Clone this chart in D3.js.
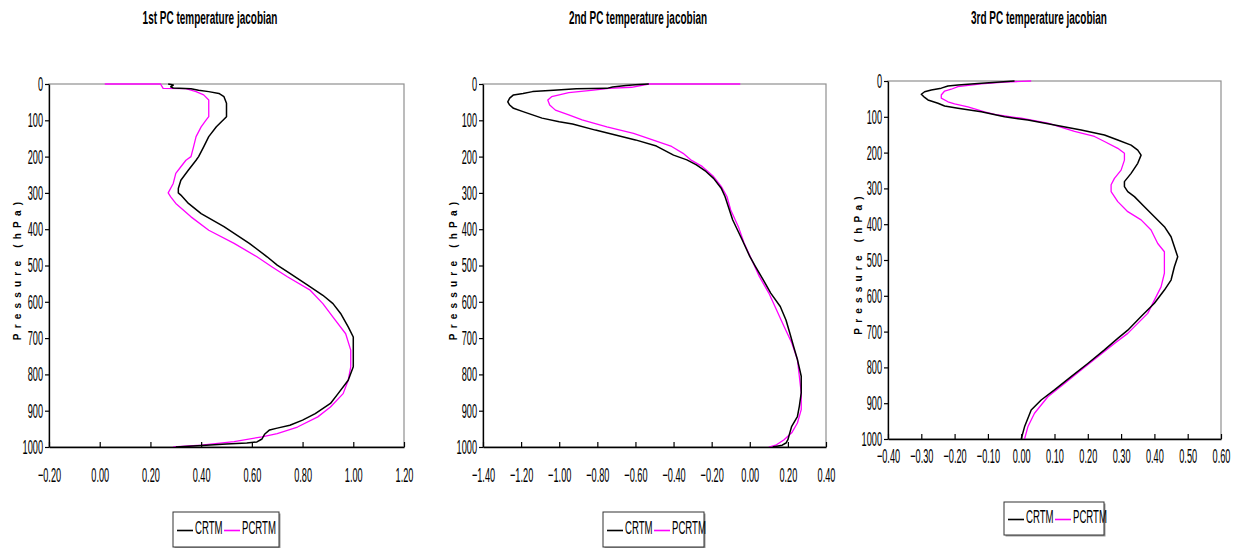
<!DOCTYPE html>
<html>
<head>
<meta charset="utf-8">
<script src="https://cdn.jsdelivr.net/npm/d3@7"></script>
<style>
  body { margin: 0; background: #fff; }
  svg { display: block; }
  text { font-family: "Liberation Sans", Arial, sans-serif; fill: #000; }
</style>
</head>
<body>
<div id="chart"></div>
<script>
// chart dimensions
const W = 1240, H = 548;
// the reference text is drawn narrow and tall
const SX = 0.8, SY = 1.75;

// series names and titles
const seriesNames = ["CRTM", "PCRTM"];
const titles = ["1st PC temperature jacobian", "2nd PC temperature jacobian", "3rd PC temperature jacobian"];
const yLabel = "Pressure (hPa)";
const pressureTicks = [0, 100, 200, 300, 400, 500, 600, 700, 800, 900, 1000];
const xTicks1 = [-0.2, 0, 0.2, 0.4, 0.6, 0.8, 1.0, 1.2];
const xTicks2 = [-1.4, -1.2, -1.0, -0.8, -0.6, -0.4, -0.2, 0, 0.2, 0.4];
const xTicks3 = [-0.4, -0.3, -0.2, -0.1, 0, 0.1, 0.2, 0.3, 0.4, 0.5, 0.6];

// [pressure hPa, jacobian]
const pc1Crtm = [[0,0.27],[3,0.29],[8,0.28],[11,0.29],[13,0.36],[17,0.39],[21,0.43],[26,0.47],[35,0.49],[53,0.50],
  [72,0.50],[90,0.50],[104,0.48],[118,0.46],[145,0.43],[173,0.41],[200,0.39],[210,0.38],[237,0.35],[265,0.32],
  [288,0.31],[300,0.31],[306,0.32],[329,0.35],[357,0.40],[393,0.49],[439,0.59],[476,0.66],[499,0.70],[522,0.75],
  [554,0.82],[582,0.88],[605,0.92],[632,0.95],[669,0.98],[697,1.00],[733,1.00],[779,1.00],[816,0.98],[853,0.94],
  [880,0.91],[908,0.85],[926,0.80],[940,0.75],[948,0.70],[953,0.67],[965,0.65],[978,0.64],[986,0.62],[989,0.58],
  [992,0.50],[995,0.42],[1000,0.30]];
const pc1Pcrtm = [[0,0.02],[0,0.24],[12,0.25],[13,0.34],[21,0.38],[30,0.41],[44,0.43],[62,0.43],[90,0.43],[99,0.42],
  [118,0.40],[145,0.38],[173,0.37],[200,0.36],[210,0.34],[228,0.32],[246,0.30],[274,0.29],[300,0.27],[311,0.28],
  [329,0.30],[366,0.36],[403,0.43],[439,0.53],[476,0.62],[504,0.68],[531,0.74],[568,0.83],[605,0.88],[642,0.92],
  [688,0.97],[733,0.99],[779,0.99],[816,0.98],[853,0.96],[890,0.91],[917,0.86],[945,0.78],[963,0.70],[972,0.64],
  [985,0.53],[995,0.40],[1000,0.29]];

const pc2Crtm = [[0,-0.53],[2,-0.60],[4,-0.65],[8,-0.72],[12,-0.75],[13,-0.91],[17,-1.03],[21,-1.14],[26,-1.19],[30,-1.24],
  [39,-1.26],[49,-1.27],[58,-1.26],[67,-1.24],[76,-1.19],[85,-1.14],[94,-1.09],[104,-1.00],[110,-0.93],[127,-0.81],
  [154,-0.60],[171,-0.49],[196,-0.40],[209,-0.33],[223,-0.28],[241,-0.23],[260,-0.19],[287,-0.15],[310,-0.13],[374,-0.09],
  [429,-0.04],[475,0.00],[503,0.03],[539,0.07],[576,0.11],[613,0.16],[650,0.19],[686,0.21],[723,0.23],[759,0.25],
  [805,0.27],[851,0.27],[888,0.26],[916,0.25],[943,0.22],[961,0.21],[980,0.20],[989,0.19],[995,0.17],[1000,0.12]];
const pc2Pcrtm = [[0,-0.05],[0,-0.53],[9,-0.62],[12,-0.74],[17,-0.82],[24,-0.95],[30,-1.00],[35,-1.04],[44,-1.06],[58,-1.05],
  [72,-1.02],[85,-0.95],[99,-0.88],[108,-0.82],[118,-0.75],[136,-0.61],[154,-0.51],[172,-0.41],[191,-0.35],[209,-0.31],
  [227,-0.25],[255,-0.19],[282,-0.15],[310,-0.12],[347,-0.10],[393,-0.06],[438,-0.03],[484,0.01],[530,0.05],[576,0.10],
  [622,0.14],[668,0.18],[713,0.22],[759,0.25],[805,0.26],[851,0.27],[897,0.27],[934,0.25],[961,0.22],[980,0.18],
  [994,0.14],[1000,0.10]];

const pc3Crtm = [[0,-0.02],[7,-0.13],[11,-0.19],[14,-0.22],[20,-0.24],[25,-0.27],[30,-0.29],[37,-0.30],[46,-0.29],[53,-0.28],
  [62,-0.25],[70,-0.23],[76,-0.19],[86,-0.12],[100,-0.05],[109,0.02],[123,0.10],[137,0.18],[151,0.25],[165,0.29],
  [179,0.33],[193,0.35],[207,0.36],[230,0.35],[258,0.33],[281,0.31],[295,0.31],[309,0.32],[323,0.34],[351,0.37],
  [379,0.40],[407,0.43],[435,0.45],[463,0.46],[491,0.47],[519,0.46],[556,0.45],[584,0.43],[621,0.40],[658,0.36],
  [696,0.32],[719,0.29],[751,0.25],[789,0.20],[826,0.15],[863,0.10],[891,0.06],[919,0.03],[966,0.01],[1000,0.00]];
const pc3Pcrtm = [[0,0.03],[1,0.00],[3,-0.05],[8,-0.12],[16,-0.19],[23,-0.21],[28,-0.23],[39,-0.24],[48,-0.24],[58,-0.22],
  [64,-0.20],[72,-0.16],[86,-0.11],[95,-0.07],[104,0.00],[118,0.08],[141,0.16],[155,0.22],[169,0.25],[188,0.29],
  [202,0.31],[221,0.31],[249,0.30],[272,0.28],[290,0.27],[309,0.27],[337,0.29],[365,0.32],[388,0.36],[416,0.39],
  [454,0.41],[477,0.43],[510,0.43],[537,0.43],[575,0.42],[612,0.40],[649,0.38],[677,0.35],[705,0.32],[733,0.28],
  [770,0.23],[807,0.18],[845,0.13],[882,0.08],[928,0.04],[966,0.02],[1000,0.01]];

const COLORS = { CRTM: "#000000", PCRTM: "#ff00ff" };

// panel layout
const panels = [
  { left: 49, right: 404, top: 84, bottom: 447, xDomain: [-0.2, 1.2], ticks: xTicks1, gap: 28,
    labelX: 17, titleX: 210, legend: { x: 173, y: 512, w: 106, h: 35 }, crtm: pc1Crtm, pcrtm: pc1Pcrtm },
  { left: 483, right: 826, top: 84, bottom: 447, xDomain: [-1.4, 0.4], ticks: xTicks2, gap: 28,
    labelX: 453, titleX: 638, legend: { x: 603, y: 512, w: 101, h: 35 }, crtm: pc2Crtm, pcrtm: pc2Pcrtm },
  { left: 888, right: 1221, top: 81, bottom: 439, xDomain: [-0.4, 0.6], ticks: xTicks3, gap: 17,
    labelX: 858, titleX: 1039, legend: { x: 1004, y: 502, w: 100, h: 33 }, crtm: pc3Crtm, pcrtm: pc3Pcrtm },
];

const svg = d3.select("#chart").append("svg").attr("width", W).attr("height", H);

panels.forEach((p, i) => {
  const g = svg.append("g");

  const x = d3.scaleLinear().domain(p.xDomain).range([p.left, p.right]);
  const y = d3.scaleLinear().domain([0, 1000]).range([p.top, p.bottom]);

  // title
  g.append("text")
    .attr("transform", `translate(${p.titleX},24) scale(0.78,1.5)`)
    .attr("text-anchor", "middle")
    .style("font-size", "12.8px")
    .style("font-weight", "bold")
    .text(titles[i]);

  // plot frame (top and right are grey)
  g.append("rect")
    .attr("x", p.left).attr("y", p.top)
    .attr("width", p.right - p.left).attr("height", p.bottom - p.top)
    .attr("fill", "none").attr("stroke", "#909090").attr("stroke-width", 1.2);

  // lines
  const line = d3.line().x((d) => x(d[1])).y((d) => y(d[0]));
  [["PCRTM", p.pcrtm, 1.3], ["CRTM", p.crtm, 1.5]].forEach(([name, data, sw]) => {
    g.append("path")
      .datum(data)
      .attr("fill", "none")
      .attr("stroke", COLORS[name])
      .attr("stroke-width", sw)
      .attr("stroke-linejoin", "round")
      .attr("d", line);
  });

  // y axis
  const yAxis = g.append("g")
    .attr("transform", `translate(${p.left},0)`)
    .call(d3.axisLeft(y).tickValues(pressureTicks).tickFormat(d3.format("d"))
      .tickSizeInner(4).tickSizeOuter(0).tickPadding(3));
  yAxis.selectAll(".tick text")
    .attr("x", null)
    .attr("transform", `translate(-6,0) scale(${SX},${SY})`)
    .style("font-size", "11.5px");

  // x axis, ticks point inward
  const xAxis = g.append("g")
    .attr("transform", `translate(0,${p.bottom})`)
    .call(d3.axisBottom(x).tickValues(p.ticks).tickFormat(d3.format(".2f")).tickSizeInner(-5).tickSizeOuter(0));
  xAxis.selectAll(".tick text")
    .attr("y", null)
    .attr("transform", `translate(0,${p.gap}) scale(${SX},${SY})`)
    .attr("dy", "0.35em")
    .style("font-size", "11.5px");
  [yAxis, xAxis].forEach((a) => {
    a.select(".domain").attr("stroke", "#000").attr("stroke-width", 1.3);
    a.selectAll(".tick line").attr("stroke", "#000").attr("stroke-width", 1.2);
    a.attr("font-family", null).attr("font-size", null);
  });

  // y axis label
  g.append("text")
    .attr("transform", `translate(${p.labelX + 4},${(p.top + p.bottom) / 2 + 3}) rotate(-90)`)
    .attr("text-anchor", "middle")
    .style("font-size", "10px")
    .style("font-weight", "bold")
    .style("letter-spacing", "5.2px")
    .text(yLabel);

  // legend
  const L = p.legend;
  const lg = g.append("g").attr("transform", `translate(${L.x},${L.y})`);
  lg.append("rect")
    .attr("x", 1.5).attr("y", 1.5).attr("width", L.w).attr("height", L.h)
    .attr("fill", "#9a9a9a");
  lg.append("rect")
    .attr("width", L.w).attr("height", L.h)
    .attr("fill", "#fff").attr("stroke", "#333").attr("stroke-width", 1);
  const items = [
    { name: seriesNames[0], x0: 4, x1: 20, tx: 22 },
    { name: seriesNames[1], x0: 51, x1: 67, tx: 69 },
  ];
  items.forEach((it) => {
    lg.append("line")
      .attr("x1", it.x0).attr("x2", it.x1)
      .attr("y1", L.h / 2 + 1).attr("y2", L.h / 2 + 1)
      .attr("stroke", COLORS[it.name]).attr("stroke-width", 1.6);
    lg.append("text")
      .attr("transform", `translate(${it.tx},${L.h / 2 - 2}) scale(${SX},1.55)`)
      .attr("dy", "0.35em")
      .style("font-size", "12px")
      .text(it.name);
  });
});
</script>
</body>
</html>
